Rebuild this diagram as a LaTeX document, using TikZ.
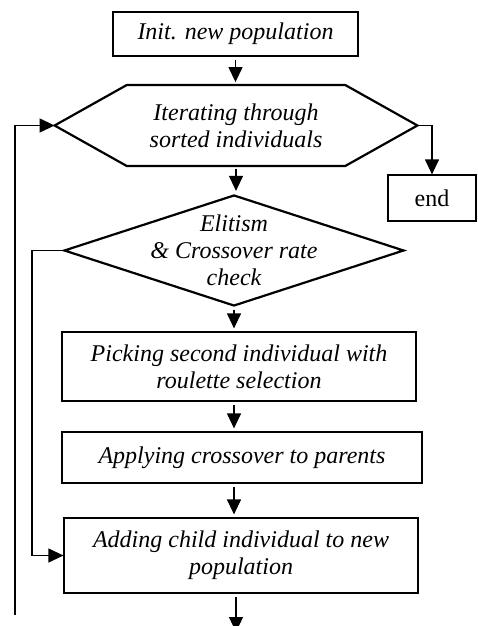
\documentclass[tikz,border=0pt]{standalone}
\usepackage{fontspec}
\setmainfont{Liberation Serif}
\usetikzlibrary{arrows.meta,shapes.geometric}

\begin{document}
\begin{tikzpicture}[%
    x=0.5pt, y=-0.5pt,%
    font=\fontsize{12}{13.5}\selectfont\itshape%
    ]
    % Styles
    \tikzset{fleche/.style={-{Triangle[length=7.5pt,width=7pt]}, line width=0.6pt}}%
    \tikzset{courte/.style={shorten <=1.5pt, shorten >=1.5pt}}%
    \tikzset{boite/.style={draw, line width=0.6pt, inner sep=2pt, align=center}}%
    \tikzset{boucle/.style={inner sep=0pt, align=center}}%
    \tikzset{test/.style={draw, line width=1.1pt, diamond, inner sep=0pt}}%

    % Cadre
    \useasboundingbox (0,0) rectangle (477,626);%

    % Blocs
    \node[boite, minimum width=122.5pt, minimum height=22pt] (init) at (235.5,34) {Init. new population};%
    \node[boucle, minimum width=181pt, minimum height=40pt] (iter) at (236,125.5) {Iterating through\\sorted individuals};%
    \draw[line width=1.1pt, line join=miter] (iter.west) -- ([xshift=36pt]iter.north west) --%
        ([xshift=-36pt]iter.north east) -- (iter.east) --%
        ([xshift=-36pt]iter.south east) -- ([xshift=36pt]iter.south west) -- cycle;%
    \node[boite, font=\fontsize{12}{13.5}\selectfont\upshape, minimum width=44pt, minimum height=23pt] (fin) at (432,198) {end};%
    \node[test, minimum width=170pt, minimum height=55.5pt,%
        label={[align=center]center:Elitism\\\& Crossover rate\\check}] (check) at (234,250.5) {};%
    \node[boite, minimum width=177pt, minimum height=34.5pt] (pick) at (239,366.5) {Picking second individual with\\roulette selection};%
    \node[boite, minimum width=180pt, minimum height=25.5pt] (apply) at (242,457.5) {Applying crossover to parents};%
    \node[boite, minimum width=177pt, minimum height=37.5pt] (add) at (241,555.5) {Adding child individual to new\\population};%

    % Fleches
    \draw[fleche, courte] (init.south) -- (init.south |- iter.north);%
    \draw[fleche, courte] (iter.south) -- (iter.south |- check.north);%
    \draw[fleche, courte] (check.south) -- (check.south |- pick.north);%
    \draw[fleche, courte] (check.south |- pick.south) -- (check.south |- apply.north);%
    \draw[fleche, courte] (check.south |- apply.south) -- (check.south |- add.north);%
    \coordinate (sortie) at (236,632);%
    \draw[fleche, shorten <=1.5pt] (sortie |- add.south) -- (sortie);%

    % Fin de boucle
    \draw[fleche] (iter.east) -| (fin.north);%

    % Rejet
    \draw[fleche] (check.west) -- ++(-31,0) |- (add.west);%

    % Retour
    \coordinate (retour) at (15,615);%
    \draw[fleche] (retour) |- (iter.west);%
\end{tikzpicture}
\end{document}
